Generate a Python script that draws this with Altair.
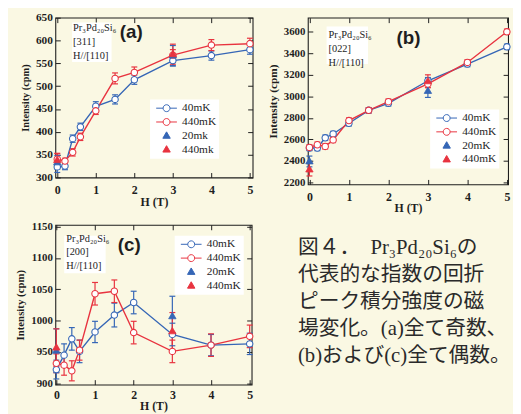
import altair as alt
import pandas as pd

BLUE = "#3566B6"
RED = "#E8333F"
BG = "#FAF8E3"
INK = "#1E1E1E"
SERIF = "Liberation Serif"

H = [0, 0.2, 0.4, 0.6, 1, 1.5, 2, 3, 4, 5]
H_TRI = [0, 3]

# (a) [311]
a_40 = [323, 325, 385, 411, 456, 471, 514, 556, 567, 580]
a_40_err = [12, 8, 8, 8, 10, 10, 10, 12, 10, 10]
a_440 = [340, 336, 355, 389, 446, 517, 530, 568, 590, 593]
a_440_err = [12, 6, 8, 8, 8, 12, 12, 12, 12, 12]
a_20t = [333, 567]
a_20t_err = [15, 22]
a_440t = [338, 570]
a_440t_err = [15, 22]
a_names = ["40mK", "440mK", "20mk", "440mk"]

# (b) [022]
b_40 = [2520, 2520, 2615, 2650, 2750, 2870, 2935, 3145, 3300, 3460]
b_40_err = [25, 25, 25, 25, 25, 25, 25, 30, 25, 25]
b_440 = [2525, 2550, 2535, 2595, 2775, 2870, 2950, 3115, 3315, 3600]
b_440_err = [25, 25, 25, 25, 25, 25, 25, 30, 25, 25]
b_20t = [2395, 3050]
b_20t_err = [50, 60]
b_440t = [2320, 3140]
b_440t_err = [60, 60]
b_names = ["40mK", "440mK", "20mK", "440mK "]

# (c) [200]
c_40 = [922, 945, 971, 951, 982, 1009, 1029, 978, 961, 963]
c_40_err = [15, 18, 18, 18, 17, 19, 18, 18, 17, 17]
c_440 = [932, 929, 920, 953, 1043, 1047, 981, 951, 961, 975]
c_440_err = [15, 16, 16, 16, 18, 18, 18, 18, 18, 18]
c_20t = [952, 1007]
c_20t_err = [35, 32]
c_440t = [957, 983]
c_440t_err = [30, 30]
c_names = ["40mK", "440mK", "20mK", "440mK "]

caption = ["図４．　Pr₃Pd₂₀Si₆の", "代表的な指数の回折", "ピーク積分強度の磁",
           "場変化。(a)全て奇数、", "(b)および(c)全て偶数。"]

CIRC = "M-2.1,0L-0.7,0M0.7,0L2.1,0M0.7,0A0.7,0.7,0,1,1,-0.7,0A0.7,0.7,0,1,1,0.7,0Z"
TRI = "M0,-0.8L0.75,0.5L-0.75,0.5Z"


def table(series, names):
    rows = []
    for (hs, vs, es), nm in zip(series, names):
        for h, v, e in zip(hs, vs, es):
            rows.append({"H": h, "I": v, "lo": v - e, "hi": v + e, "s": nm,
                         "kind": "c" if nm in names[:2] else "t"})
    return pd.DataFrame(rows)


def panel(df, names, xdom, ydom, yvals, w, h, leg_xy, ann_box, ann_xy, ann_lines,
          letter, letter_xy, ylab_fs, ytitle_fs, ytitle_pad, xlab_pad=7, xtitle_pad=1):
    xs = alt.Scale(domain=xdom, nice=False, zero=False)
    ys = alt.Scale(domain=ydom, nice=False, zero=False)
    st = alt.Scale(domain=names, range=[BLUE, RED, BLUE, RED])
    fs = alt.Scale(domain=names, range=["white", "white", BLUE, RED])
    ss = alt.Scale(domain=names, range=[CIRC, CIRC, TRI, TRI])

    xaxis = alt.Axis(values=[0, 1, 2, 3, 4, 5], format="d", title="H (T)",
                     grid=True, gridDash=[5, h - 10, 5], gridColor=INK, gridWidth=1,
                     gridOpacity=1, ticks=False, tickSize=0, domain=False,
                     labelFont=SERIF, labelFontWeight="bold", labelFontSize=12,
                     labelPadding=xlab_pad, labelColor=INK, titleFont=SERIF,
                     titleFontWeight="bold", titleFontSize=12, titlePadding=xtitle_pad,
                     titleColor=INK)
    yaxis = alt.Axis(values=yvals, format="d", title="Intensity (cpm)",
                     grid=True, gridDash=[5, w - 10, 5], gridColor=INK, gridWidth=1,
                     gridOpacity=1, ticks=False, tickSize=0, domain=False,
                     labelFont=SERIF, labelFontWeight="bold", labelFontSize=ylab_fs,
                     labelPadding=3, labelColor=INK, titleFont=SERIF,
                     titleFontWeight="bold", titleFontSize=ytitle_fs,
                     titlePadding=ytitle_pad, titleColor=INK)
    leg = alt.Legend(title=None, orient="none", legendX=leg_xy[0], legendY=leg_xy[1],
                     fillColor="white", padding=3, labelFont=SERIF, labelFontSize=11.5,
                     labelColor=INK, symbolSize=100, symbolStrokeWidth=1.0,
                     symbolOffset=8, labelOffset=10, rowPadding=1)

    X = alt.X("H:Q", scale=xs, axis=xaxis)
    S = alt.Stroke("s:N", scale=st, legend=leg)
    F = alt.Fill("s:N", scale=fs, legend=leg)

    base = alt.Chart(df)
    circ = base.transform_filter(alt.datum.kind == "c")
    tri = base.transform_filter(alt.datum.kind == "t")

    bars = base.mark_rule(strokeWidth=1.2).encode(
        x=X, y=alt.Y("lo:Q", scale=ys, axis=yaxis), y2="hi:Q", stroke=S)
    caps = base.transform_fold(["lo", "hi"], as_=["end", "yc"]).mark_point(
        shape="stroke", size=36, strokeWidth=1.2, opacity=1).encode(
        x=X, y=alt.Y("yc:Q", scale=ys, axis=yaxis), stroke=S)
    lines = circ.mark_line(strokeWidth=1.4).encode(
        x=X, y=alt.Y("I:Q", scale=ys, axis=yaxis), stroke=S)
    dots = circ.mark_point(shape="circle", size=42, strokeWidth=1.1, opacity=1,
                           filled=True).encode(
        x=X, y=alt.Y("I:Q", scale=ys, axis=yaxis), stroke=S, fill=F)
    tris = tri.mark_point(size=100, strokeWidth=0.8, opacity=1, filled=True).encode(
        x=X, y=alt.Y("I:Q", scale=ys, axis=yaxis), stroke=S, fill=F,
        shape=alt.Shape("s:N", scale=ss, legend=leg))

    one = alt.Chart(pd.DataFrame({"k": [0]}))
    box = one.mark_rect(fill="white").encode(
        x=alt.value(ann_box[0]), x2=alt.value(ann_box[1]),
        y=alt.value(ann_box[2]), y2=alt.value(ann_box[3]))
    ann = one.mark_text(align="left", baseline="top", font=SERIF, fontSize=10.5,
                        lineHeight=14, color=INK, text=ann_lines).encode(
        x=alt.value(ann_xy[0]), y=alt.value(ann_xy[1]))
    let = one.mark_text(align="center", baseline="middle", font="Liberation Sans",
                        fontWeight="bold", fontSize=19, color=INK, text=letter).encode(
        x=alt.value(letter_xy[0]), y=alt.value(letter_xy[1]))

    return alt.layer(box, ann, let, bars, caps, lines, dots, tris).properties(
        width=w, height=h)


da = table([(H, a_40, a_40_err), (H, a_440, a_440_err),
            (H_TRI, a_20t, a_20t_err), (H_TRI, a_440t, a_440t_err)], a_names)
db = table([(H, b_40, b_40_err), (H, b_440, b_440_err),
            (H_TRI, b_20t, b_20t_err), (H_TRI, b_440t, b_440t_err)], b_names)
dc = table([(H, c_40, c_40_err), (H, c_440, c_440_err),
            (H_TRI, c_20t, c_20t_err), (H_TRI, c_440t, c_440t_err)], c_names)

pa = panel(da, a_names, [-0.05, 5.07], [300, 650], list(range(300, 651, 50)),
           200, 162, (96, 83), (17, 57, 5, 45), (18, 6),
           ["Pr₃Pd₂₀Si₆", "[311]", "H//[110]"], "(a)", (77, 15), 11.5, 10.5, 5)
pb = panel(db, b_names, [-0.04, 5.03], [2182, 3731], list(range(2200, 3601, 200)),
           203, 169, (124, 93), (19, 61, 9, 47), (21, 13),
           ["Pr₃Pd₂₀Si₆", "[022]", "H//[110]"], "(b)", (102, 21), 11, 11.5, 5)
pc = panel(dc, c_names, [-0.026, 5.05], [898, 1153], list(range(900, 1151, 50)),
           199, 162, (121, 11), (9, 51, 11, 49), (11, 9),
           ["Pr₃Pd₂₀Si₆", "[200]", "H//[110]"], "(c)", (75, 21), 11, 11, 5,
           xlab_pad=5, xtitle_pad=0)

cap_df = pd.DataFrame({"i": list(range(len(caption))), "t": caption})
text_chart = alt.Chart(cap_df).mark_text(
    align="left", baseline="middle", fontSize=21,
    font="Liberation Serif, Noto Sans CJK JP", color="#2A2A2A").encode(
    x=alt.value(37),
    y=alt.Y("i:Q", axis=None,
            scale=alt.Scale(domain=[-0.85, 4.968], reverse=True, nice=False, zero=False)),
    text="t:N",
).properties(width=240, height=160, view=alt.ViewBackground(stroke="transparent"))

res = dict(x="independent", y="independent", stroke="independent",
           fill="independent", shape="independent")
resl = dict(stroke="independent", fill="independent", shape="independent")

row1 = alt.hconcat(pa, pb, spacing=56, bounds="flush").resolve_scale(**res).resolve_legend(**resl)
row2 = alt.hconcat(pc, text_chart, spacing=4).resolve_scale(**res).resolve_legend(**resl)
chart = alt.vconcat(row1, row2, spacing=5).resolve_scale(**res).resolve_legend(**resl)

chart = chart.properties(
    background=BG, padding={"left": 6, "top": 0, "right": 0, "bottom": 0}
).configure_view(stroke=INK, strokeWidth=1.1)

chart.save("out.html", embed_options={"renderer": "svg", "actions": False})
